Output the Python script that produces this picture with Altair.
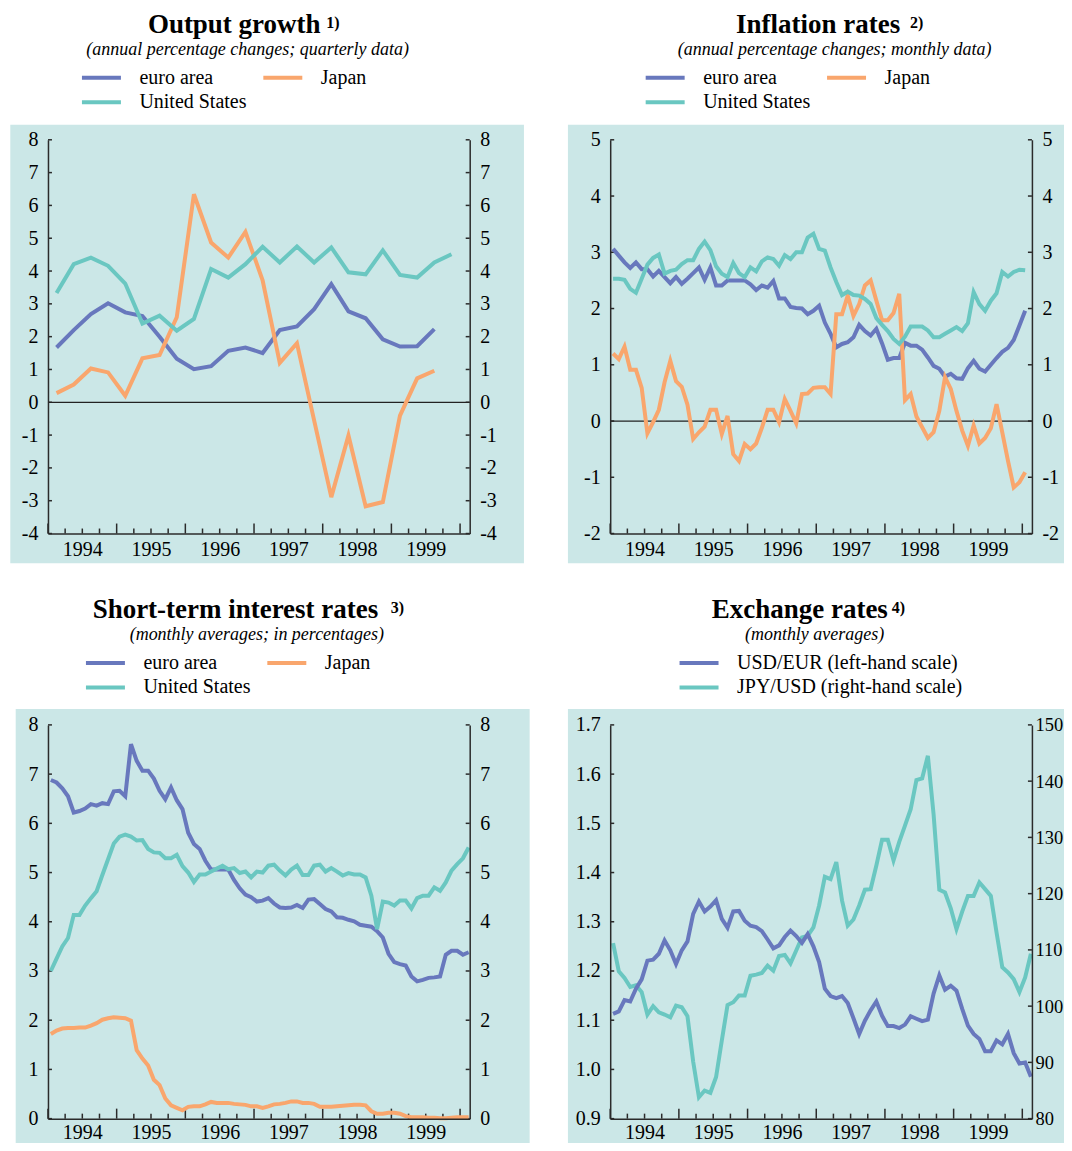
import altair as alt
import pandas as pd

# ---------------- data ----------------
series_names = ["euro area", "Japan", "United States"]
fx_names = ["USD/EUR (left-hand scale)", "JPY/USD (right-hand scale)"]
year_labels = [1994, 1995, 1996, 1997, 1998, 1999]

# Output growth, quarterly from 1994 Q1
out_euro = [1.67, 2.2, 2.69, 3.02, 2.74, 2.63, 2.0, 1.33, 1.01, 1.1, 1.57, 1.67,
            1.5, 2.2, 2.31, 2.84, 3.6, 2.77, 2.56, 1.92, 1.7, 1.71, 2.23]
out_us = [3.33, 4.21, 4.41, 4.16, 3.62, 2.4, 2.64, 2.18, 2.54, 4.06, 3.8, 4.21,
          4.74, 4.26, 4.75, 4.26, 4.72, 3.96, 3.9, 4.63, 3.88, 3.8, 4.26, 4.51]
out_japan = [0.28, 0.54, 1.03, 0.91, 0.2, 1.34, 1.44, 2.59, 6.34, 4.87, 4.41, 5.19,
             3.72, 1.2, 1.8, -0.55, -2.89, -1.01, -3.17, -3.04, -0.41, 0.73, 0.96]

# Inflation rates, monthly from Jan 1994
inf_euro = [3.06, 2.94, 2.82, 2.72, 2.82, 2.7, 2.7, 2.57, 2.67, 2.56, 2.45, 2.56,
            2.44, 2.53, 2.63, 2.73, 2.51, 2.73, 2.41, 2.41, 2.5, 2.5, 2.5, 2.5,
            2.43, 2.33, 2.41, 2.37, 2.49, 2.18, 2.18, 2.03, 2.01, 2.0, 1.9, 1.96,
            2.05, 1.75, 1.55, 1.31, 1.37, 1.4, 1.49, 1.71, 1.6, 1.52, 1.64, 1.38,
            1.09, 1.12, 1.12, 1.39, 1.34, 1.34, 1.27, 1.13, 0.98, 0.93, 0.79, 0.84,
            0.76, 0.75, 0.94, 1.07, 0.93, 0.88, 1.0, 1.12, 1.23, 1.3, 1.44, 1.7,
            1.96]
inf_us = [2.53, 2.53, 2.51, 2.35, 2.28, 2.53, 2.78, 2.9, 2.96, 2.62, 2.67, 2.69,
          2.79, 2.86, 2.86, 3.06, 3.19, 3.04, 2.75, 2.62, 2.56, 2.81, 2.63, 2.56,
          2.73, 2.66, 2.84, 2.91, 2.88, 2.76, 2.95, 2.88, 3.0, 3.0, 3.26, 3.33,
          3.06, 3.03, 2.73, 2.47, 2.24, 2.3, 2.24, 2.23, 2.17, 2.08, 1.83, 1.71,
          1.6, 1.46, 1.37, 1.5, 1.68, 1.68, 1.68, 1.61, 1.49, 1.49, 1.55, 1.61,
          1.67, 1.6, 1.74, 2.29, 2.08, 1.96, 2.14, 2.27, 2.65, 2.57, 2.65, 2.69,
          2.68]
inf_japan = [1.2, 1.1, 1.32, 0.91, 0.91, 0.59, -0.22, -0.02, 0.2, 0.69, 1.07, 0.71,
             0.61, 0.29, -0.32, -0.2, -0.1, 0.2, 0.2, -0.23, 0.09, -0.59, -0.71, -0.41,
             -0.5, -0.4, -0.12, 0.2, 0.2, -0.02, 0.39, 0.18, -0.04, 0.48, 0.49, 0.59,
             0.6, 0.6, 0.48, 1.9, 1.9, 2.23, 1.87, 2.08, 2.41, 2.5, 2.14, 1.79,
             1.79, 1.92, 2.26, 0.37, 0.48, 0.08, -0.11, -0.3, -0.2, 0.18, 0.78, 0.57,
             0.18, -0.17, -0.44, -0.08, -0.4, -0.3, -0.13, 0.3, -0.2, -0.71, -1.18, -1.09,
             -0.91]

# Short-term interest rates, monthly from Jan 1994
ir_euro = [6.88, 6.83, 6.71, 6.55, 6.22, 6.25, 6.3, 6.39, 6.36, 6.41, 6.39, 6.65,
           6.66, 6.55, 7.61, 7.27, 7.07, 7.07, 6.91, 6.66, 6.49, 6.73, 6.47, 6.29,
           5.81, 5.58, 5.48, 5.24, 5.06, 5.06, 5.06, 5.06, 4.85, 4.68, 4.55, 4.5,
           4.41, 4.43, 4.48, 4.37, 4.29, 4.28, 4.29, 4.34, 4.28, 4.45, 4.46, 4.36,
           4.26, 4.21, 4.09, 4.08, 4.04, 4.01, 3.94, 3.92, 3.9, 3.81, 3.68, 3.35,
           3.18, 3.14, 3.11, 2.89, 2.79, 2.82, 2.86, 2.87, 2.89, 3.33, 3.41, 3.41,
           3.33, 3.38]
ir_us = [3.0, 3.25, 3.5, 3.67, 4.14, 4.14, 4.33, 4.48, 4.62, 4.95, 5.27, 5.59,
         5.73, 5.77, 5.73, 5.65, 5.66, 5.48, 5.41, 5.4, 5.29, 5.29, 5.36, 5.13,
         5.0, 4.81, 4.96, 4.96, 5.02, 5.08, 5.14, 5.07, 5.09, 4.99, 5.02, 4.9,
         5.02, 5.0, 5.14, 5.16, 5.04, 4.94, 5.06, 5.14, 4.95, 4.95, 5.14, 5.16,
         5.02, 5.09, 5.02, 4.94, 4.99, 4.96, 4.96, 4.9, 4.53, 3.85, 4.41, 4.39,
         4.33, 4.43, 4.43, 4.27, 4.48, 4.53, 4.53, 4.7, 4.63, 4.8, 5.04, 5.17,
         5.29, 5.51]
ir_japan = [1.72, 1.79, 1.83, 1.84, 1.84, 1.85, 1.85, 1.89, 1.94, 2.01, 2.04, 2.06,
            2.05, 2.04, 1.99, 1.39, 1.22, 1.08, 0.79, 0.68, 0.41, 0.27, 0.22, 0.17,
            0.24, 0.25, 0.25, 0.29, 0.34, 0.32, 0.32, 0.32, 0.3, 0.29, 0.28, 0.25,
            0.25, 0.22, 0.25, 0.29, 0.3, 0.32, 0.35, 0.35, 0.32, 0.32, 0.3, 0.24,
            0.24, 0.24, 0.25, 0.26, 0.27, 0.28, 0.28, 0.27, 0.15, 0.1, 0.1, 0.12,
            0.12, 0.1, 0.05, 0.03, 0.03, 0.03, 0.02, 0.02, 0.01, 0.01, 0.02, 0.03,
            0.03, 0.03]

# Exchange rates, monthly from Jan 1994
fx_usdeur = [1.113, 1.118, 1.141, 1.138, 1.164, 1.183, 1.221, 1.223, 1.235, 1.262, 1.242, 1.214,
             1.242, 1.26, 1.316, 1.341, 1.321, 1.331, 1.344, 1.306, 1.288, 1.321, 1.322, 1.302,
             1.292, 1.289, 1.281, 1.264, 1.246, 1.252, 1.269, 1.282, 1.271, 1.257, 1.275, 1.25,
             1.218, 1.164, 1.149, 1.145, 1.149, 1.135, 1.104, 1.072, 1.099, 1.12, 1.138, 1.109,
             1.088, 1.088, 1.084, 1.091, 1.108, 1.103, 1.098, 1.101, 1.154, 1.191, 1.162, 1.17,
             1.16, 1.123, 1.089, 1.072, 1.062, 1.037, 1.037, 1.059, 1.051, 1.072, 1.033, 1.012,
             1.014, 0.985]
fx_jpyusd = [111.2, 106.2, 105.0, 103.4, 103.7, 102.5, 98.5, 100.0, 98.9, 98.5, 98.0, 100.1,
             99.8, 98.2, 90.1, 83.8, 85.0, 84.6, 87.4, 93.9, 100.2, 100.7, 101.9, 101.9,
             105.4, 105.6, 105.9, 107.2, 106.3, 108.9, 109.1, 107.6, 109.9, 112.2, 112.5, 114.0,
             117.9, 123.0, 122.6, 125.6, 118.8, 114.3, 115.4, 117.9, 120.7, 120.8, 125.0, 129.6,
             129.6, 125.9, 129.2, 132.1, 135.0, 140.2, 140.5, 144.5, 134.1, 120.7, 120.2, 117.4,
             113.7, 116.8, 119.6, 119.6, 122.0, 120.8, 119.6, 113.1, 106.9, 106.0, 104.8, 102.5,
             105.1, 109.3]

# ---------------- styling ----------------
W, H = 422, 394
X0, X1 = 1994.0, 2000.14
BG = "#CBE7E7"
AX = "#2b2b2b"
PURPLE = "#6878BD"
TEAL = "#6AC7C1"
ORANGE = "#F9A66D"
SERIF = "Liberation Serif"
HYPHEN_LABEL = "datum.value < 0 ? '-' + format(-datum.value, '{f}') : format(datum.value, '{f}')"


def quarter_t(n):
    return [1994 + (i + 0.5) / 4 for i in range(n)]


def month_t(n):
    return [1994 + (i + 0.5) / 12 for i in range(n)]


def long_frame(pairs, tfun):
    rows = []
    for name, vals in pairs:
        for t, v in zip(tfun(len(vals)), vals):
            rows.append({"t": t, "v": v, "series": name})
    return pd.DataFrame(rows)


xscale = alt.Scale(domain=[X0, X1], nice=False, zero=False)


def X(lp):
    ax = alt.Axis(values=[y + 0.5 for y in year_labels], labelExpr="floor(datum.value)",
                  ticks=False, tickSize=0, domainColor=AX, domainWidth=1.5,
                  labelFont=SERIF, labelFontSize=20, labelColor="black", labelPadding=lp,
                  labelOverlap=False, labelFlush=False, grid=False, title=None, zindex=1)
    return alt.X("t:Q", scale=xscale, axis=ax)


def yaxis(orient, values, fmt, size=20, pad=10):
    return alt.Axis(orient=orient, values=values, labelExpr=HYPHEN_LABEL.replace("{f}", fmt),
                    ticks=False, tickSize=0,
                    domainColor=AX, domainWidth=1.5, labelFont=SERIF, labelFontSize=size,
                    labelColor="black", labelPadding=pad, labelOverlap=False, grid=False,
                    title=None, zindex=1)


def legend(lx, cols, direction):
    return alt.Legend(orient="none", legendX=lx, legendY=-72, columns=cols, direction=direction,
                      title=None, symbolType="M-1,0H1", symbolSize=1521, symbolStrokeWidth=4,
                      clipHeight=20, labelFont=SERIF, labelFontSize=20, labelColor="black",
                      labelOffset=16.5, rowPadding=4.5, columnPadding=14.5, padding=0,
                      labelLimit=500)


def text_layer(s, x, y, size, weight="normal", style="normal", align="left"):
    return alt.Chart(pd.DataFrame({"s": [s]})).mark_text(
        font=SERIF, fontSize=size, fontWeight=weight, fontStyle=style, align=align,
        baseline="alphabetic", color="black").encode(
        text="s:N", x=alt.value(x), y=alt.value(y))


quarter_ticks = [1994 + q / 4 for q in range(25) if q % 4 != 0]
year_ticks = [1994 + k for k in range(7)]


def frame_layers(bg, ydom, lticks, rdom, rticks, rfmt, lp, rsize=20, rpad=10):
    ysc = alt.Scale(domain=ydom, nice=False, zero=False)
    rsc = alt.Scale(domain=rdom, nice=False, zero=False)
    layers = [
        alt.Chart(pd.DataFrame({"k": [0]})).mark_rect(color=BG).encode(
            x=alt.value(bg[0]), x2=alt.value(W + bg[1]),
            y=alt.value(bg[2]), y2=alt.value(H + bg[3])),
        alt.Chart(pd.DataFrame({"v": lticks})).mark_rule(color=AX, strokeWidth=1.5).encode(
            y=alt.Y("v:Q", scale=ysc, axis=None), x=alt.value(0), x2=alt.value(4)),
        alt.Chart(pd.DataFrame({"v": rticks})).mark_rule(color=AX, strokeWidth=1.5).encode(
            y=alt.Y("v:Q", scale=rsc, axis=yaxis("right", rticks, rfmt, rsize, rpad)),
            x=alt.value(W - 4), x2=alt.value(W)),
        alt.Chart(pd.DataFrame({"t": quarter_ticks})).mark_rule(color=AX, strokeWidth=1.5).encode(
            x=X(lp), y=alt.value(H), y2=alt.value(H - 5)),
        alt.Chart(pd.DataFrame({"t": year_ticks})).mark_rule(color=AX, strokeWidth=1.5).encode(
            x=X(lp), y=alt.value(H), y2=alt.value(H - 10)),
    ]
    return layers


def titles(t, tx, sup, sx, sub, subx):
    return [text_layer(t, tx, -106.5, 27, weight="bold"),
            text_layer(sup, sx, -112, 16, weight="bold"),
            text_layer(sub, subx, -84.6, 18, style="italic", align="center")]


cscale3 = alt.Scale(domain=series_names, range=[PURPLE, ORANGE, TEAL])


def three_series_panel(df, ydom, ticks, bg, lx, title, tx, sup, sx, sub, subx, zero, lp):
    ysc = alt.Scale(domain=ydom, nice=False, zero=False)
    layers = frame_layers(bg, ydom, ticks, ydom, ticks, "d", lp)
    if zero:
        layers.append(alt.Chart(pd.DataFrame({"v": [0]})).mark_rule(
            color="#222222", strokeWidth=1.2).encode(y=alt.Y("v:Q", scale=ysc, axis=None)))
    layers.append(alt.Chart(df).mark_line(strokeWidth=4).encode(
        x=X(lp), y=alt.Y("v:Q", scale=ysc, axis=yaxis("left", ticks, "d")),
        color=alt.Color("series:N", scale=cscale3, legend=legend(lx, 2, "horizontal"))))
    layers += titles(title, tx, sup, sx, sub, subx)
    return alt.layer(*layers).resolve_scale(y="independent").properties(width=W, height=H)


df_out = long_frame([("euro area", out_euro), ("Japan", out_japan), ("United States", out_us)], quarter_t)
df_inf = long_frame([("euro area", inf_euro), ("Japan", inf_japan), ("United States", inf_us)], month_t)
df_ir = long_frame([("euro area", ir_euro), ("Japan", ir_japan), ("United States", ir_us)], month_t)

p1 = three_series_panel(df_out, [-4, 8], list(range(-4, 9)), (-37.7, 54.3, -15, 29.7), 32,
                        "Output growth", 100, "1)", 278.5,
                        "(annual percentage changes; quarterly data)", 199.8, True, 6)
p2 = three_series_panel(df_inf, [-2, 5], list(range(-2, 6)), (-42.3, 40, -15, 29.7), 33.5,
                        "Inflation rates", 126, "2)", 300,
                        "(annual percentage changes; monthly data)", 224.5, True, 6)
p3 = three_series_panel(df_ir, [0, 8], list(range(0, 9)), (-32.3, 60, -16, 24.5), 36,
                        "Short-term interest rates", 44.7, "3)", 343,
                        "(monthly averages; in percentages)", 209, False, 4)

# exchange rates panel (dual scale)
lticks4 = [0.9, 1.0, 1.1, 1.2, 1.3, 1.4, 1.5, 1.6, 1.7]
rticks4 = [80, 90, 100, 110, 120, 130, 140, 150]
ysc4 = alt.Scale(domain=[0.9, 1.7], nice=False, zero=False)
rsc4 = alt.Scale(domain=[80, 150], nice=False, zero=False)
cscale2 = alt.Scale(domain=fx_names, range=[PURPLE, TEAL])
df_l = long_frame([(fx_names[0], fx_usdeur)], month_t)
df_r = long_frame([(fx_names[1], fx_jpyusd)], month_t)
layers4 = frame_layers((-42.3, 40, -16, 24.5), [0.9, 1.7], lticks4, [80, 150], rticks4, "d", 4,
                       rsize=18.5, rpad=3)
layers4.append(alt.Chart(df_r).mark_line(strokeWidth=4).encode(
    x=X(4), y=alt.Y("v:Q", scale=rsc4, axis=None),
    color=alt.Color("series:N", scale=cscale2, legend=legend(67.4, 1, "vertical"))))
layers4.append(alt.Chart(df_l).mark_line(strokeWidth=4).encode(
    x=X(4), y=alt.Y("v:Q", scale=ysc4, axis=yaxis("left", lticks4, ".1f")),
    color=alt.Color("series:N", scale=cscale2, legend=legend(67.4, 1, "vertical"))))
layers4 += titles("Exchange rates", 101.7, "4)", 281.7, "(monthly averages)", 204.5)
p4 = alt.layer(*layers4).resolve_scale(y="independent").properties(width=W, height=H)

chart = alt.concat(p1, p2, p3, p4, columns=2, bounds="flush",
                   spacing={"row": 191.5, "column": 140.6}).resolve_scale(
    color="independent").configure_view(stroke=None).properties(
    padding={"left": 2, "top": 2.5, "right": -8.3, "bottom": 0})

chart.save("out.html", embed_options={"renderer": "svg", "actions": False})
